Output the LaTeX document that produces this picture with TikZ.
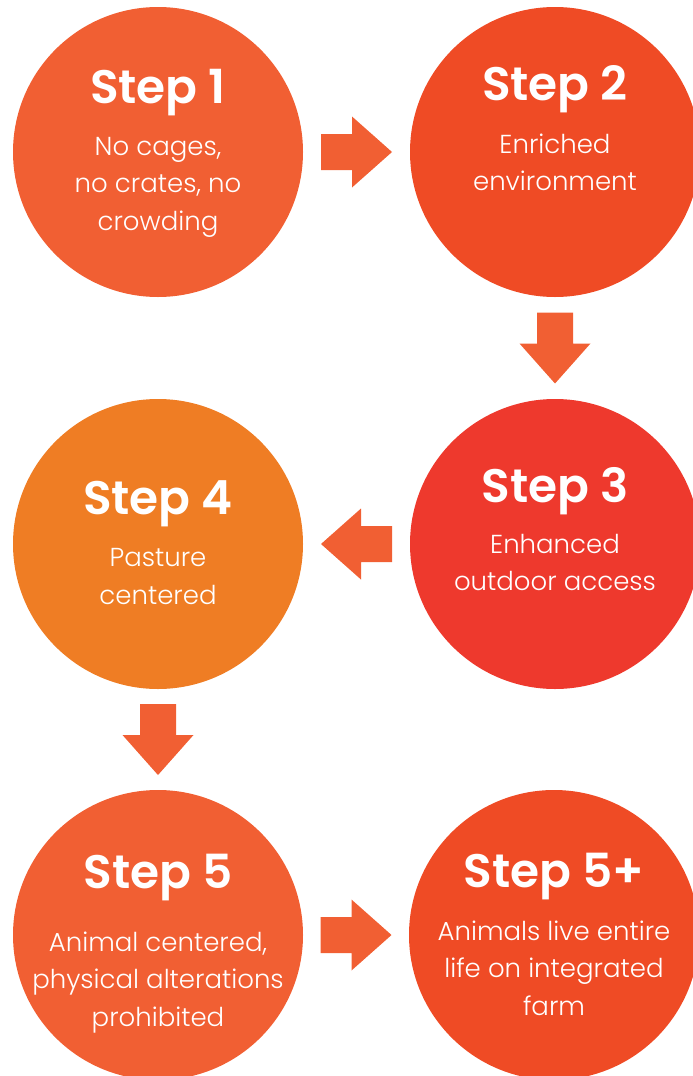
\documentclass[tikz,border=0pt]{standalone}
\usepackage{fontspec}
\setmainfont{Poppins}
\newfontfamily\bodyfont{Poppins}[UprightFont={* Light}]
\newfontfamily\headfont{Poppins}[UprightFont={* SemiBold}]
\usetikzlibrary{calc}

\definecolor{stepOrangeRed}{RGB}{241,95,51}
\definecolor{stepRed}{RGB}{239,75,37}
\definecolor{stepCrimson}{RGB}{238,57,45}
\definecolor{stepOrange}{RGB}{239,125,36}
\definecolor{arrowFill}{RGB}{241,95,51}

\tikzset{
  disc/.style={circle, fill=#1, minimum size=290pt, inner sep=0pt, outer sep=0pt},
  steptitle/.style={text=white, font=\headfont\fontsize{47}{47}\selectfont,
    anchor=base, inner sep=0pt},
  % base anchor of a multi-line node sits on its last line
  steptext/.style={text=white, font=\bodyfont\fontsize{26}{37.5}\selectfont,
    align=center, anchor=base, inner sep=0pt},
  blockarrow/.pic={
    \fill[arrowFill] (-35.5,-18) -- (-4.5,-18) -- (-4.5,-35.5) -- (35.5,0)
      -- (-4.5,35.5) -- (-4.5,18) -- (-35.5,18) -- cycle;
  }
}

\begin{document}
\begin{tikzpicture}[x=1pt,y=1pt]
  \useasboundingbox (0,0) rectangle (693,-1076);
  \clip (0,0) rectangle (693,-1076);

  % step discs
  \node[disc=stepOrangeRed] (s1) at (158,-152) {};
  \node[disc=stepRed]       (s2) at (555,-152) {};
  \node[disc=stepCrimson]   (s3) at (555,-544) {};
  \node[disc=stepOrange]    (s4) at (158,-544) {};
  \node[disc=stepOrangeRed] (s5) at (158,-935) {};
  \node[disc=stepRed]       (s6) at (554,-935) {};

  % titles and descriptions
  \node[steptitle] (t1) at ($(s1)+(0,49)$) {Step 1};
  \node[steptext]  (d1) at ($(s1)+(0,-78)$) {No cages,\\no crates, no\\crowding};

  \node[steptitle] (t2) at ($(s2)+(0,52)$) {Step 2};
  \node[steptext]  (d2) at ($(s2)+(0,-38.5)$) {Enriched\\environment};

  \node[steptitle] (t3) at ($(s3)+(0,42)$) {Step 3};
  \node[steptext]  (d3) at ($(s3)+(0,-46.5)$) {Enhanced\\outdoor access};

  \node[steptitle] (t4) at ($(s4)+(0,30)$) {Step 4};
  \node[steptext]  (d4) at ($(s4)+(0,-60)$) {Pasture\\centered};

  \node[steptitle] (t5) at ($(s5)+(0,47)$) {Step 5};
  \node[steptext]  (d5) at ($(s5)+(0,-91)$) {Animal centered,\\physical alterations\\prohibited};

  \node[steptitle] (t6) at ($(s6)+(0,48)$) {Step 5+};
  \node[steptext]  (d6) at ($(s6)+(0,-80)$) {Animals live entire\\life on integrated\\farm};

  % block arrows between consecutive steps
  \pic at ($(s1)!0.5!(s2)$) {blockarrow};
  \pic[rotate=-90] at ($(s2)!0.5!(s3)$) {blockarrow};
  \pic[rotate=180] at ($(s3)!0.5!(s4)$) {blockarrow};
  \pic[rotate=-90] at ($(s4)!0.5!(s5)$) {blockarrow};
  \pic at ($(s5)!0.5!(s6)$) {blockarrow};
\end{tikzpicture}
\end{document}
